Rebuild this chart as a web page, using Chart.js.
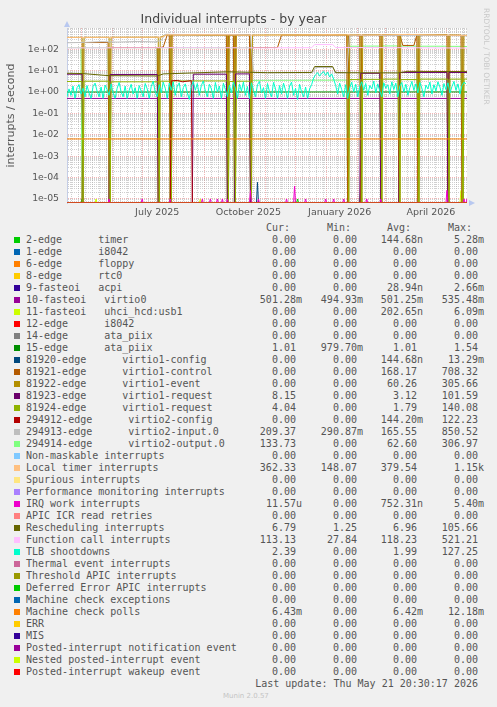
<!DOCTYPE html>
<html>
<head>
<meta charset="utf-8">
<script src="https://cdn.jsdelivr.net/npm/chart.js@4/dist/chart.umd.min.js"></script>
<style>
  html, body { margin: 0; padding: 0; background: #f0f0f0; }
  body { width: 497px; height: 707px; position: relative; overflow: hidden; font-family: "DejaVu Sans Mono", monospace; color: #555; }
  #chartBox { position: absolute; left: 0; top: 0; width: 497px; height: 220px; }
  #legend { position: absolute; left: 0; top: 222px; width: 497px; font-size: 10px; line-height: 12px; }
  .row { position: absolute; left: 0; width: 497px; height: 12px; white-space: pre; }
  .sw { position: absolute; left: 14px; top: 3px; width: 6px; height: 6px; }
  .nm { position: absolute; left: 26px; top: 0; }
  .val { position: absolute; top: 0; text-align: right; }
  #vendor { position: absolute; left: 482px; top: 8px; writing-mode: vertical-rl; font: 7.5px "DejaVu Sans"; color: #c8c8c8; }
  #munin { position: absolute; left: 223px; top: 692px; font: 7px "DejaVu Sans"; color: #c4c4c4; }
</style>
</head>
<body>
<div id="chartBox"><canvas id="chart" width="497" height="220"></canvas></div>
<div id="vendor">RRDTOOL / TOBI OETIKER</div>
<div id="legend"></div>
<div id="munin">Munin 2.0.57</div>
<script>
// ---- legend table (as printed under the graph) ----
const legendNames = [
  "2-edge      timer", "1-edge      i8042", "6-edge      floppy", "8-edge      rtc0",
  "9-fasteoi   acpi", "10-fasteoi   virtio0", "11-fasteoi   uhci_hcd:usb1", "12-edge      i8042",
  "14-edge      ata_piix", "15-edge      ata_piix",
  "81920-edge      virtio1-config", "81921-edge      virtio1-control", "81922-edge      virtio1-event",
  "81923-edge      virtio1-request", "81924-edge      virtio1-request",
  "294912-edge      virtio2-config", "294913-edge      virtio2-input.0", "294914-edge      virtio2-output.0",
  "Non-maskable interrupts", "Local timer interrupts", "Spurious interrupts",
  "Performance monitoring interrupts", "IRQ work interrupts", "APIC ICR read retries",
  "Rescheduling interrupts", "Function call interrupts", "TLB shootdowns",
  "Thermal event interrupts", "Threshold APIC interrupts", "Deferred Error APIC interrupts",
  "Machine check exceptions", "Machine check polls", "ERR", "MIS",
  "Posted-interrupt notification event", "Nested posted-interrupt event", "Posted-interrupt wakeup event"
];
const seriesColors = [
  "#00CC00", "#0066B3", "#FF8000", "#FFCC00", "#330099", "#990099", "#CCFF00", "#FF0000",
  "#808080", "#008F00", "#00487D", "#B35A00", "#B38F00", "#6B006B", "#8FB300", "#B30000",
  "#BEBEBE", "#80FF80", "#80C9FF", "#FFC080", "#FFE680", "#AA80FF", "#EE00CC", "#FF8080",
  "#666600", "#FFBFFF", "#00FFCC", "#CC6699", "#999900", "#00CC00", "#0066B3", "#FF8000",
  "#FFCC00", "#330099", "#990099", "#CCFF00", "#FF0000"
];
const curValues = ["0.00","0.00","0.00","0.00","0.00","501.28m","0.00","0.00","0.00","1.01","0.00","0.00","0.00","8.15","4.04","0.00","209.37","133.73","0.00","362.33","0.00","0.00","11.57u","0.00","6.79","113.13","2.39","0.00","0.00","0.00","0.00","6.43m","0.00","0.00","0.00","0.00","0.00"];
const minValues = ["0.00","0.00","0.00","0.00","0.00","494.93m","0.00","0.00","0.00","979.70m","0.00","0.00","0.00","0.00","0.00","0.00","290.87m","0.00","0.00","148.07","0.00","0.00","0.00","0.00","1.25","27.84","0.00","0.00","0.00","0.00","0.00","0.00","0.00","0.00","0.00","0.00","0.00"];
const avgValues = ["144.68n","0.00","0.00","0.00","28.94n","501.25m","202.65n","0.00","0.00","1.01","144.68n","168.17","60.26","3.12","1.79","144.20m","165.55","62.60","0.00","379.54","0.00","0.00","752.31n","0.00","6.96","118.23","1.99","0.00","0.00","0.00","0.00","6.42m","0.00","0.00","0.00","0.00","0.00"];
const maxValues = ["5.28m","0.00","0.00","0.00","2.66m","535.48m","6.09m","0.00","0.00","1.54","13.29m","708.32","305.66","101.59","140.08","122.23","850.52","306.97","0.00","1.15k","0.00","0.00","5.40m","0.00","105.66","521.21","127.25","0.00","0.00","0.00","0.00","12.18m","0.00","0.00","0.00","0.00","0.00"];
const lastUpdate = "Last update: Thu May 21 20:30:17 2026";

// ---- x axis: days since 17 Apr 2025 (graph spans 400 days) ----
const monthStartDays = [14, 45, 75, 106, 137, 167, 198, 228, 259, 290, 318, 349, 379];
const monthLabelDays = [90, 181, 272, 363];
const monthLabels = ["July 2025", "October 2025", "January 2026", "April 2026"];

// ---- series, as [day, rate] points ----
const zeroLine = [[0, 0], [399, 0]];
const localTimer = [[0, 355], [50, 360], [95, 365], [99, 470], [140, 480], [183, 455], [230, 470], [260, 480], [300, 455], [340, 490], [360, 470], [399, 440]];
const virtio2Input = [[0, 200], [20, 210], [35, 225], [50, 215], [70, 230], [88, 220], [94, 260], [98, 500], [120, 480], [150, 490], [183, 470], [186, 8], [245, 8], [248, 14], [265, 14], [268, 8], [279, 8], [282, 450], [320, 440], [360, 450], [399, 420]];
const virtio1Control = [[0, 0], [15, 0], [16, 205], [41, 205], [42, 0], [43, 120], [90, 120], [91, 0], [92, 120], [96, 125], [100, 470], [102, 470], [103, 0], [104, 470], [159, 460], [160, 0], [161, 450], [166, 450], [167, 0], [168, 470], [182, 470], [183, 0], [184, 120], [210, 120], [214, 460], [279, 460], [280, 0], [281, 450], [292, 450], [293, 0], [294, 460], [312, 460], [313, 0], [314, 470], [330, 470], [331, 0], [332, 460], [335, 150], [346, 150], [349, 460], [350, 0], [351, 470], [379, 470], [380, 0], [381, 450], [393, 450], [394, 0], [395, 440], [399, 440]];
const virtio1Event = [[0, 355], [15, 358], [16, 0], [17, 358], [42, 360], [43, 0], [44, 360], [91, 364], [92, 0], [93, 364], [99, 470], [103, 472], [104, 0], [105, 472], [160, 465], [161, 0], [162, 465], [167, 462], [168, 0], [169, 462], [183, 455], [184, 0], [185, 455], [230, 470], [260, 480], [280, 470], [281, 0], [282, 465], [293, 462], [294, 0], [295, 462], [300, 455], [313, 465], [314, 0], [315, 465], [331, 475], [332, 0], [333, 475], [340, 490], [350, 480], [351, 0], [352, 480], [360, 470], [380, 460], [381, 0], [382, 460], [394, 445], [395, 0], [396, 445], [399, 440]];
const virtio2Output = [[0, 118], [14, 118], [15, 0], [16, 118], [41, 118], [42, 0], [43, 118], [90, 118], [91, 0], [92, 118], [102, 118], [103, 0], [104, 118], [159, 118], [160, 0], [161, 118], [166, 118], [167, 0], [168, 118], [182, 118], [183, 0], [184, 3.5], [279, 3.6], [280, 0], [281, 138], [292, 138], [293, 0], [294, 140], [312, 140], [313, 0], [314, 142], [330, 142], [331, 0], [332, 140], [349, 140], [350, 0], [351, 138], [379, 138], [380, 0], [381, 136], [393, 136], [394, 0], [395, 134], [399, 134]];
const functionCall = [[0, 115], [60, 117], [120, 118], [180, 116], [244, 118], [247, 165], [265, 165], [268, 120], [330, 118], [399, 113]];
const rescheduling = [[0, 7.5], [15, 7.3], [42, 5.8], [90, 5.6], [96, 7.0], [160, 8.8], [200, 8.0], [244, 8.2], [247, 15.5], [265, 15.5], [268, 8.0], [330, 7.8], [340, 9.2], [399, 9.0]];
const virtio1Request3 = [[0, 6.8], [15, 6.8], [16, 0], [42, 0], [43, 6.6], [90, 6.6], [91, 0], [125, 0], [126, 6.8], [159, 6.8], [160, 0], [167, 0], [168, 7.0], [182, 7.0], [183, 0], [292, 0], [293, 7.5], [312, 7.5], [313, 0], [331, 0], [332, 8.2], [379, 8.2], [380, 0], [381, 8.2], [399, 8.15]];
const virtio1Request4 = [[0, 3.1], [15, 3.1], [16, 0], [17, 3.2], [42, 3.2], [43, 0], [44, 3.0], [91, 3.0], [92, 0], [93, 3.2], [103, 3.2], [104, 0], [105, 3.3], [160, 3.3], [161, 0], [162, 3.1], [167, 3.1], [168, 0], [169, 3.2], [183, 3.2], [184, 0], [281, 0], [282, 3.8], [293, 3.8], [294, 0], [295, 3.9], [313, 3.9], [314, 0], [315, 4.0], [331, 4.0], [332, 0], [333, 3.8], [350, 3.8], [351, 0], [352, 4.0], [380, 4.0], [381, 0], [382, 4.0], [394, 4.0], [395, 0], [396, 4.04], [399, 4.04]];
const virtio2Config = [[0, 0], [103, 0], [104, 3.3], [110, 3.5], [115, 3.0], [124, 3.4], [125, 0], [399, 0]];
const ataPiix15 = [[0, 1.0], [399, 1.01]];
const virtio0 = [[0, 0.5], [399, 0.5]];
const machineCheckPolls = [[0, 0.0064], [399, 0.0064]];

// TLB shootdowns, one reading every 2 days
const tlbStepDays = 2;
const tlbRate = [
  0.6, 1.4, 0.7, 1.9, 0.5, 1.6, 2.2, 0.8, 1.5, 0.6,
  2.0, 0.9, 0.5, 1.8, 2.6, 1.1, 0.6, 1.7, 0.5, 2.1,
  1.3, 0.7, 2.4, 0.9, 0.5, 1.5, 2.8, 1.0, 0.6, 1.9,
  0.5, 1.2, 2.3, 0.8, 1.6, 0.5, 2.0, 1.1, 0.6, 2.5,
  1.4, 0.5, 1.8, 3.2, 1.0, 0.6, 2.2, 0.9, 2.9, 1.5,
  0.5, 2.6, 1.2, 3.0, 0.7, 1.9, 2.7, 0.6, 1.6, 2.4,
  0.9, 0.45, 1.8, 3.1, 1.2, 2.5, 0.7, 2.0, 3.3, 1.1,
  0.6, 2.3, 1.4, 0.5, 2.8, 1.0, 1.9, 0.5, 2.6, 1.3,
  0.6, 2.1, 0.9, 2.9, 1.5, 0.5, 2.4, 1.1, 3.0, 0.7,
  1.8, 0.5, 2.7, 1.2, 0.6, 2.2, 3.1, 0.9, 1.6, 0.5,
  2.5, 1.0, 0.6, 2.8, 1.4, 0.5, 2.0, 0.8, 2.6, 1.2,
  0.5, 1.9, 2.9, 0.7, 1.5, 0.45, 2.3, 1.0, 0.6, 1.7,
  0.5, 1.4, 2.2, 4.5, 6.5, 8.0, 5.5, 7.5, 9.0, 6.0,
  8.5, 5.0, 7.0, 4.0, 2.0, 0.8, 2.6, 1.3, 0.6, 2.2,
  0.5, 1.6, 2.9, 1.0, 2.3, 0.6, 1.8, 3.0, 1.2, 2.5,
  0.7, 2.0, 1.4, 3.2, 0.9, 2.4, 1.1, 0.6, 2.7, 1.5,
  2.2, 0.8, 3.0, 1.3, 2.6, 0.6, 1.9, 2.8, 1.0, 2.3,
  0.7, 1.6, 3.1, 1.2, 2.4, 0.9, 2.8, 1.5, 0.6, 2.1,
  1.4, 2.9, 0.8, 2.2, 1.1, 3.0, 1.7, 0.7, 2.5, 1.3,
  2.7, 0.9, 1.8, 3.1, 1.2, 2.4, 0.8, 2.0, 2.9, 2.4
];

// short bursts that barely leave zero: [day, peak rate]
const irqWorkSpikes = [[42, 1e-5], [75, 1e-5], [103, 1e-5], [135, 1e-5], [143, 1e-5], [150, 1e-5], [155, 1e-5], [160, 1e-5], [183, 2.5e-5], [191, 1e-5], [219, 1e-5], [227, 4e-5], [238, 1e-5], [258, 1e-5], [266, 1e-5], [276, 1e-5], [299, 1e-5], [313, 1e-5], [379, 2.5e-5], [396, 1e-5], [399, 1e-5]];
const timerSpikes = [[15, 1e-5], [230, 1e-5], [293, 2.5e-5]];
const usb1Spikes = [[29, 1e-5], [133, 1e-5], [393, 2.5e-5]];
const virtio1ConfigSpikes = [[190, 6e-5]];

const yMin = 6.5e-6;
const yMax = 980;

// ---- build chart data ----
// a log axis cannot show 0, so zero readings sit on the floor of the axis (as rrdtool draws them)
const toXY = pts => pts.map(([x, y]) => ({ x, y: y === 0 ? yMin : y }));
function spikeLine(spikes) {
  const pts = [[0, 0]];
  spikes.forEach(([d, v]) => { pts.push([d - 1, 0], [d, v], [d + 1, 0]); });
  pts.push([399, 0]);
  return pts;
}
const tlbPoints = tlbRate.map((v, i) => [i * tlbStepDays, v]);

const seriesPoints = [
  spikeLine(timerSpikes), zeroLine, zeroLine, zeroLine, zeroLine, virtio0, spikeLine(usb1Spikes), zeroLine,
  zeroLine, ataPiix15, spikeLine(virtio1ConfigSpikes), virtio1Control, virtio1Event, virtio1Request3, virtio1Request4, virtio2Config,
  virtio2Input, virtio2Output, zeroLine, localTimer, zeroLine, zeroLine, spikeLine(irqWorkSpikes), zeroLine,
  rescheduling, functionCall, tlbPoints, zeroLine, zeroLine, zeroLine, zeroLine, machineCheckPolls,
  zeroLine, zeroLine, zeroLine, zeroLine, zeroLine
];
// virtio2-output sits underneath the virtio1 lines where they all drop out
const drawnUnder = { 17: 100 };

const datasets = seriesPoints.map((pts, i) => ({
  label: legendNames[i],
  data: toXY(pts),
  borderColor: seriesColors[i],
  backgroundColor: seriesColors[i],
  borderWidth: 1,
  pointRadius: 0,
  tension: 0,
  fill: false,
  order: drawnUnder[i] || (seriesPoints.length - i)   // later rows drawn on top, like rrdtool
}));

// grid positions
const weekDays = [];
for (let d = 4; d < 399; d += 7) weekDays.push(d);
const xGridDays = Array.from(new Set(weekDays.concat(monthStartDays))).sort((a, b) => a - b);
const yGridValues = [];
for (let e = -6; e <= 2; e++) {
  for (let m = 1; m <= 9; m++) {
    const v = m * Math.pow(10, e);
    if (v > yMin && v < yMax) yGridValues.push(v);
  }
}
const isDecade = v => Math.abs(Math.log10(v) - Math.round(Math.log10(v))) < 1e-6;
const fmtExp = v => {
  const e = Math.round(Math.log10(v));
  return "1e" + (e < 0 ? "-" : "+") + String(Math.abs(e)).padStart(2, "0");
};

const majorGrid = "rgba(232, 120, 120, 0.55)";
const minorGrid = "rgba(170, 170, 170, 0.55)";

const plotBackground = {
  id: "plotBackground",
  beforeDraw(chart) {
    const { ctx, chartArea: a } = chart;
    ctx.save();
    ctx.fillStyle = "#ffffff";
    ctx.fillRect(a.left, a.top, a.right - a.left, a.bottom - a.top);
    ctx.restore();
  }
};
const axisArrows = {
  id: "axisArrows",
  afterDraw(chart) {
    const { ctx, chartArea: a } = chart;
    ctx.save();
    ctx.fillStyle = "#b8c8f0";
    ctx.beginPath();
    ctx.moveTo(a.right + 8, a.bottom);
    ctx.lineTo(a.right + 2, a.bottom - 3);
    ctx.lineTo(a.right + 2, a.bottom + 3);
    ctx.fill();
    ctx.beginPath();
    ctx.moveTo(a.left, a.top - 7);
    ctx.lineTo(a.left - 3, a.top - 1);
    ctx.lineTo(a.left + 3, a.top - 1);
    ctx.fill();
    ctx.restore();
  }
};

new Chart(document.getElementById("chart"), {
  type: "line",
  data: { datasets },
  options: {
    responsive: false,
    devicePixelRatio: 1,
    animation: false,
    layout: { padding: { left: 0, right: 30, top: 0, bottom: 0 } },
    plugins: {
      legend: { display: false },
      tooltip: { enabled: false },
      title: {
        display: true,
        text: "Individual interrupts - by year",
        color: "#444",
        font: { family: "DejaVu Sans", size: 12.5, weight: "normal" },
        padding: { top: 12, bottom: 1 }
      }
    },
    scales: {
      x: {
        type: "linear", min: 0, max: 399, position: "bottom",
        afterBuildTicks: s => { s.ticks = xGridDays.map(v => ({ value: v })); },
        afterFit: s => { s.height = 0; },
        ticks: { display: false, autoSkip: false },
        grid: { drawTicks: false, color: c => monthStartDays.includes(c.tick.value) ? majorGrid : minorGrid },
        border: { display: false, dash: [1, 1] }
      },
      x2: {
        type: "linear", min: 0, max: 399, position: "bottom",
        afterBuildTicks: s => { s.ticks = monthLabelDays.map(v => ({ value: v })); },
        afterFit: s => { s.height = 17; },
        grid: { display: false, drawTicks: false },
        border: { display: false },
        ticks: {
          autoSkip: false, maxRotation: 0, padding: 4, color: "#555",
          font: { family: "DejaVu Sans", size: 9.5 },
          callback: v => monthLabels[monthLabelDays.indexOf(v)]
        }
      },
      y: {
        type: "logarithmic", min: yMin, max: yMax,
        afterBuildTicks: s => { s.ticks = yGridValues.map(v => ({ value: v })); },
        afterFit: s => { s.width = 67; },
        ticks: {
          autoSkip: false, padding: 8, color: "#555",
          font: { family: "DejaVu Sans", size: 9.3 },
          callback: v => isDecade(v) ? fmtExp(v) : ""
        },
        grid: { drawTicks: false, color: c => isDecade(c.tick.value) ? majorGrid : minorGrid },
        border: { display: true, color: "#c4cde6", dash: [1, 1] },
        title: {
          display: true, text: "interrupts / second", color: "#555",
          font: { family: "DejaVu Sans", size: 11 },
          padding: { top: 5, bottom: 0 }
        }
      }
    }
  },
  plugins: [plotBackground, axisArrows]
});

// ---- legend table ----
const legend = document.getElementById("legend");
const colEdges = [302, 363, 423, 484];
function cell(row, text, edge) {
  const s = document.createElement("span");
  s.className = "val";
  s.textContent = /[0-9]$/.test(text) ? text + " " : text;
  s.style.right = (497 - edge) + "px";
  row.appendChild(s);
}
function addRow(idx) {
  const r = document.createElement("div");
  r.className = "row";
  r.style.top = (idx * 12) + "px";
  legend.appendChild(r);
  return r;
}
const head = addRow(0);
["Cur:", "Min:", "Avg:", "Max:"].forEach((t, k) => cell(head, t + "  ", colEdges[k]));
legendNames.forEach((name, i) => {
  const r = addRow(i + 1);
  const sw = document.createElement("span");
  sw.className = "sw";
  sw.style.background = seriesColors[i];
  r.appendChild(sw);
  const nm = document.createElement("span");
  nm.className = "nm";
  nm.textContent = name;
  r.appendChild(nm);
  cell(r, curValues[i], colEdges[0]);
  cell(r, minValues[i], colEdges[1]);
  cell(r, avgValues[i], colEdges[2]);
  cell(r, maxValues[i], colEdges[3]);
});
const upd = addRow(legendNames.length + 1);
cell(upd, lastUpdate, 484);
</script>
</body>
</html>
